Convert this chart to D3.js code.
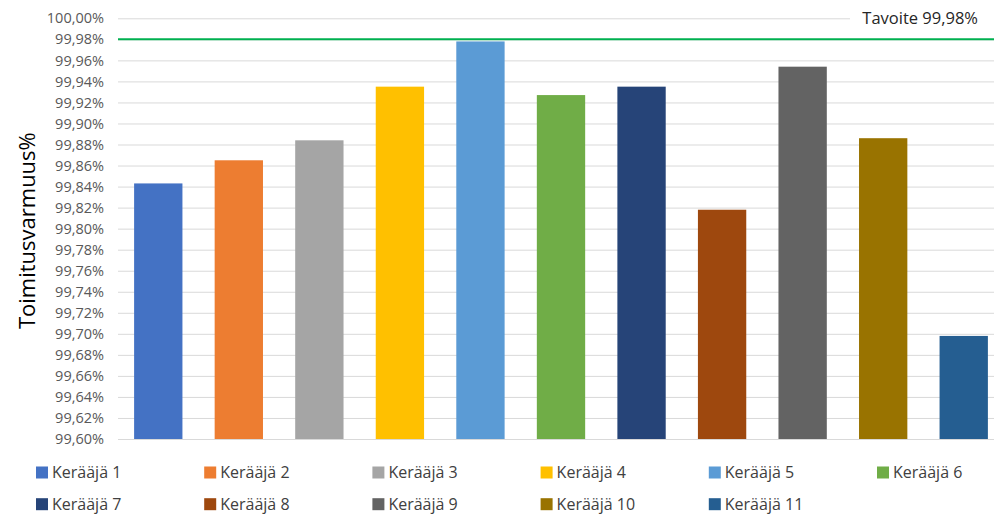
<!DOCTYPE html>
<html>
<head>
<meta charset="utf-8">
<script src="https://cdn.jsdelivr.net/npm/d3@7/dist/d3.min.js"></script>
<style>
  html, body { margin: 0; padding: 0; background: #fff; }
  svg { display: block; }
</style>
</head>
<body>
<svg id="chart" width="994" height="515"></svg>
<script>
// Delivery reliability per collector (percent)
const categories = ["Kerääjä 1", "Kerääjä 2", "Kerääjä 3", "Kerääjä 4", "Kerääjä 5", "Kerääjä 6",
                    "Kerääjä 7", "Kerääjä 8", "Kerääjä 9", "Kerääjä 10", "Kerääjä 11"];
const values = [99.843, 99.865, 99.884, 99.935, 99.978, 99.927, 99.935, 99.818, 99.954, 99.886, 99.698];
const colors = ["#4472C4", "#ED7D31", "#A5A5A5", "#FFC000", "#5B9BD5", "#70AD47",
                "#264478", "#9E480E", "#636363", "#997300", "#255E91"];
const target = 99.98;
const targetLabel = "Tavoite 99,98%";
const yTicks = d3.range(0, 21).map(i => 99.60 + i * 0.02);
const yTitle = "Toimitusvarmuus%";

const FONT = "'Open Sans', 'Noto Sans', sans-serif";
const svg = d3.select("#chart");

const plot = { left: 118, right: 1004, top: 18.3, bottom: 439 };

const x = d3.scaleBand().domain(categories).range([plot.left, plot.right]).paddingInner(0.4).paddingOuter(0.2);
const y = d3.scaleLinear().domain([99.60, 100.00]).range([plot.bottom, plot.top]);

const fmt = v => v.toFixed(2).replace(".", ",") + "%";

// gridlines + tick labels
const yAxis = d3.axisLeft(y).tickValues(yTicks).tickFormat(fmt).tickSize(-(plot.right - plot.left)).tickPadding(14);
const gy = svg.append("g").attr("transform", `translate(${plot.left},0)`).call(yAxis);
gy.select(".domain").remove();
gy.selectAll(".tick line").attr("stroke", "#D9D9D9").attr("stroke-width", 1);
gy.selectAll(".tick text").attr("fill", "#595959").attr("font-family", FONT).attr("font-size", 14.5);

// bars
svg.append("g").selectAll("rect").data(categories).join("rect")
  .attr("x", d => x(d))
  .attr("width", x.bandwidth())
  .attr("y", (d, i) => y(values[i]))
  .attr("height", (d, i) => y(99.60) - y(values[i]))
  .attr("fill", (d, i) => colors[i]);

// target line
svg.append("line")
  .attr("x1", plot.left).attr("x2", plot.right)
  .attr("y1", y(target)).attr("y2", y(target))
  .attr("stroke", "#00B050").attr("stroke-width", 2);

// target label
svg.append("rect").attr("x", 850).attr("y", 7).attr("width", 144).attr("height", 24).attr("fill", "#fff");
svg.append("text")
  .attr("x", 978).attr("y", y(100) + 6)
  .attr("text-anchor", "end")
  .attr("font-family", FONT).attr("font-size", 16.5).attr("fill", "#262626")
  .text(targetLabel);

// axis title
svg.append("text")
  .attr("transform", `translate(35, ${(plot.top + plot.bottom) / 2 + 2}) rotate(-90)`)
  .attr("text-anchor", "middle")
  .attr("font-family", FONT).attr("font-size", 22).attr("fill", "#000")
  .text(yTitle);

// legend: 6 columns, 2 rows
const legend = svg.append("g").selectAll("g").data(categories).join("g")
  .attr("transform", (d, i) => `translate(${36 + (i % 6) * 168.2}, ${472.5 + Math.floor(i / 6) * 31.7})`);
legend.append("rect").attr("x", 0).attr("y", -6).attr("width", 12).attr("height", 12)
  .attr("fill", (d, i) => colors[i]);
legend.append("text").attr("x", 16).attr("y", 0).attr("dy", "0.35em")
  .attr("font-family", FONT).attr("font-size", 16).attr("fill", "#404040")
  .text(d => d);
</script>
</body>
</html>
